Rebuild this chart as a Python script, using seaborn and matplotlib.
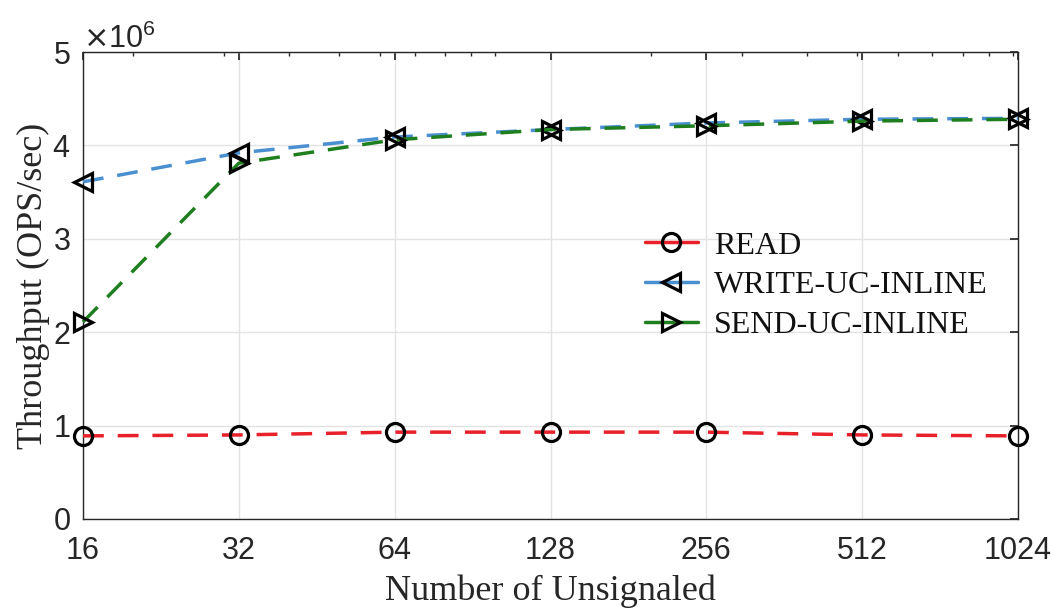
import numpy as np
import pandas as pd
import seaborn as sns
import matplotlib
matplotlib.use("Agg")
import matplotlib.pyplot as plt
from matplotlib.ticker import FixedLocator, NullFormatter, ScalarFormatter

unsignaled = [16, 32, 64, 128, 256, 512, 1024]
tick_labels = ["16", "32", "64", "128", "256", "512", "1024"]
read_vals = [0.89e6, 0.90e6, 0.93e6, 0.93e6, 0.93e6, 0.90e6, 0.89e6]
write_vals = [3.61e6, 3.92e6, 4.09e6, 4.17e6, 4.24e6, 4.28e6, 4.29e6]
send_vals = [2.11e6, 3.81e6, 4.06e6, 4.17e6, 4.21e6, 4.26e6, 4.28e6]
series_names = ["READ", "WRITE-UC-INLINE", "SEND-UC-INLINE"]

sns.set_theme(style="white")
tick_font = "Liberation Sans"
serif_font = "Liberation Serif"
plt.rcParams['font.family'] = [tick_font, 'DejaVu Sans']

df = pd.DataFrame({
    "x": unsignaled * 3,
    "y": read_vals + write_vals + send_vals,
    "series": sum([[n] * len(unsignaled) for n in series_names], []),
})

colors = {"READ": "#e8202a", "WRITE-UC-INLINE": "#4a90d0", "SEND-UC-INLINE": "#1f7f1f"}
markers = {"READ": "o", "WRITE-UC-INLINE": "<", "SEND-UC-INLINE": ">"}

fig = plt.figure(figsize=(10.56, 6.08), dpi=100)
ax = fig.add_axes([83/1056, 1 - 519/608, 935/1056, 467/608])

for n in series_names:
    sub = df[df.series == n]
    sns.lineplot(data=sub, x="x", y="y", ax=ax, color=colors[n], linestyle=(0, (6, 4)),
                 linewidth=2.5, marker=markers[n], markersize=13, markerfacecolor="none",
                 markeredgecolor="black", markeredgewidth=2.3, label=n, zorder=3,
                 clip_on=False)

ax.set_xscale("log", base=2)
ax.set_xlim(16, 1024)
ax.set_ylim(0, 5e6)
ax.xaxis.set_major_locator(FixedLocator(unsignaled))
ax.set_xticklabels(tick_labels)
minors = [m for m in list(range(20, 101, 10)) + list(range(200, 1001, 100)) if 16 < m < 1024]
ax.xaxis.set_minor_locator(FixedLocator(minors))
ax.xaxis.set_minor_formatter(NullFormatter())
ax.yaxis.set_major_locator(FixedLocator([0, 1e6, 2e6, 3e6, 4e6, 5e6]))
fmt = ScalarFormatter(useMathText=True)
fmt.set_powerlimits((0, 0))
ax.yaxis.set_major_formatter(fmt)
ax.yaxis.get_offset_text().set_fontsize(22)
ax.yaxis.get_offset_text().set_color("#262626")

ax.grid(True, which="major", color="#e3e3e3", linewidth=1)
ax.tick_params(axis="both", which="both", direction="in", top=True, right=True,
               labelsize=22, colors="#262626", length=6)
ax.tick_params(which="minor", length=3)
ax.tick_params(axis="x", which="major", pad=12)
ax.tick_params(axis="y", which="major", pad=9)
for s in ax.spines.values():
    s.set_color("#262626")
    s.set_linewidth(1)

ax.set_xlabel("Number of Unsignaled", fontsize=26, family=serif_font, color="#262626", labelpad=6)
ax.set_ylabel("Throughput (OPS/sec)", fontsize=26, family=serif_font, color="#262626", labelpad=2)

leg = ax.legend(loc="center left", bbox_to_anchor=(0.601, 0.50), frameon=False,
                prop={"family": serif_font, "size": 23}, handlelength=1.65,
                handletextpad=0.5, labelspacing=0.32, borderaxespad=0, borderpad=0)
for h in leg.get_lines():
    h.set_linestyle("-")
for t in leg.get_texts():
    t.set_color("#111111")

fig.savefig("out.png", dpi=100)
